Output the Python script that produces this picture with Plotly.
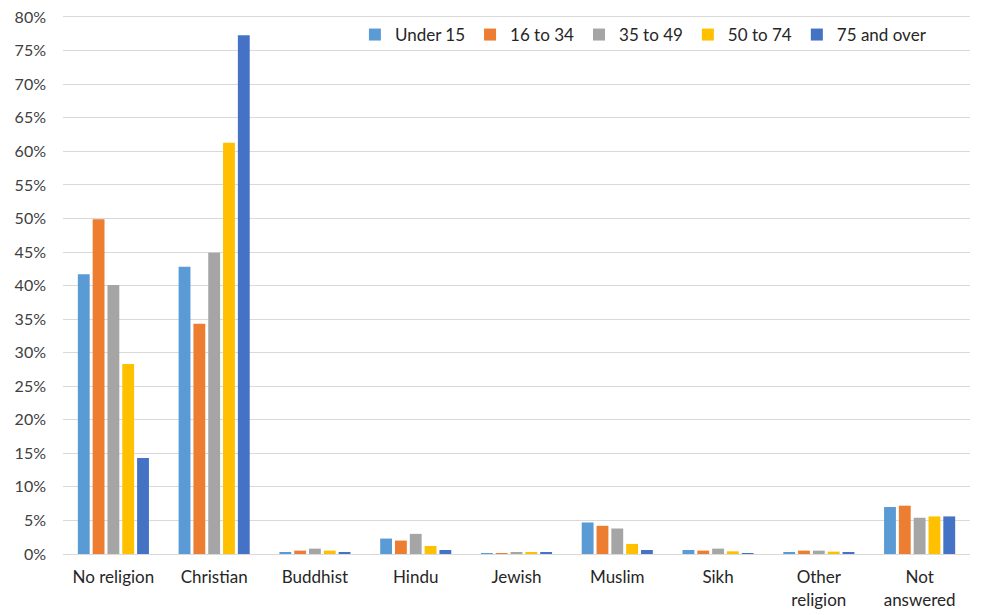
import plotly.graph_objects as go

# Data
religions = ['No religion', 'Christian', 'Buddhist', 'Hindu', 'Jewish',
             'Muslim', 'Sikh', 'Other<br>religion', 'Not<br>answered']

under_15 = [41.7, 42.8, 0.2, 2.3, 0.05, 4.7, 0.6, 0.2, 7.0]
age_16_34 = [49.9, 34.3, 0.5, 2.0, 0.05, 4.2, 0.5, 0.5, 7.2]
age_35_49 = [40.1, 44.9, 0.8, 3.0, 0.2, 3.8, 0.8, 0.5, 5.4]
age_50_74 = [28.3, 61.3, 0.5, 1.2, 0.2, 1.5, 0.4, 0.35, 5.6]
age_75_over = [14.3, 77.3, 0.2, 0.6, 0.3, 0.6, 0.1, 0.2, 5.6]

series = [('Under 15', under_15, '#5B9BD5'),
          ('16 to 34', age_16_34, '#ED7D31'),
          ('35 to 49', age_35_49, '#A5A5A5'),
          ('50 to 74', age_50_74, '#FFC000'),
          ('75 and over', age_75_over, '#4472C4')]

fig = go.Figure()
for name, vals, col in series:
    fig.add_trace(go.Bar(x=religions, y=[v / 100 for v in vals], name=name,
                         marker_color=col, marker_line_width=0))

fig.update_layout(
    width=992, height=615,
    barmode='group', bargap=0.265, bargroupgap=0.2,
    plot_bgcolor='white', paper_bgcolor='white',
    font=dict(family='Lato, Calibri, sans-serif', size=17, color='#262626'),
    margin=dict(l=55, r=30, t=9, b=69),
    legend=dict(orientation='h', x=0.958, y=1.0, xanchor='right', yanchor='top',
                font=dict(size=17, color='#262626'), bgcolor='rgba(0,0,0,0)',
                traceorder='normal', itemwidth=30),
)
# small pad above 0.8 so the 80% tick isn't dropped by float rounding
fig.update_yaxes(range=[0, 0.8002], tick0=0, dtick=0.05, tickformat='.0%',
                 automargin=False, ticklabelstandoff=16, ticklabeloverflow='allow',
                 showgrid=True, gridcolor='#d9d9d9', gridwidth=1,
                 zeroline=True, zerolinecolor='#d9d9d9', zerolinewidth=1,
                 ticks='', ticklen=0, tickfont=dict(size=16, color='#404040'))
# mirrored x line gives the top (80%) gridline that plotly clips at the edge
fig.update_xaxes(showline=True, mirror=True, linecolor='#d9d9d9', linewidth=1,
                 ticks='', automargin=False, ticklabelstandoff=8,
                 ticklabeloverflow='allow',
                 tickfont=dict(size=17, color='#262626'))

fig.write_html("out.html")
